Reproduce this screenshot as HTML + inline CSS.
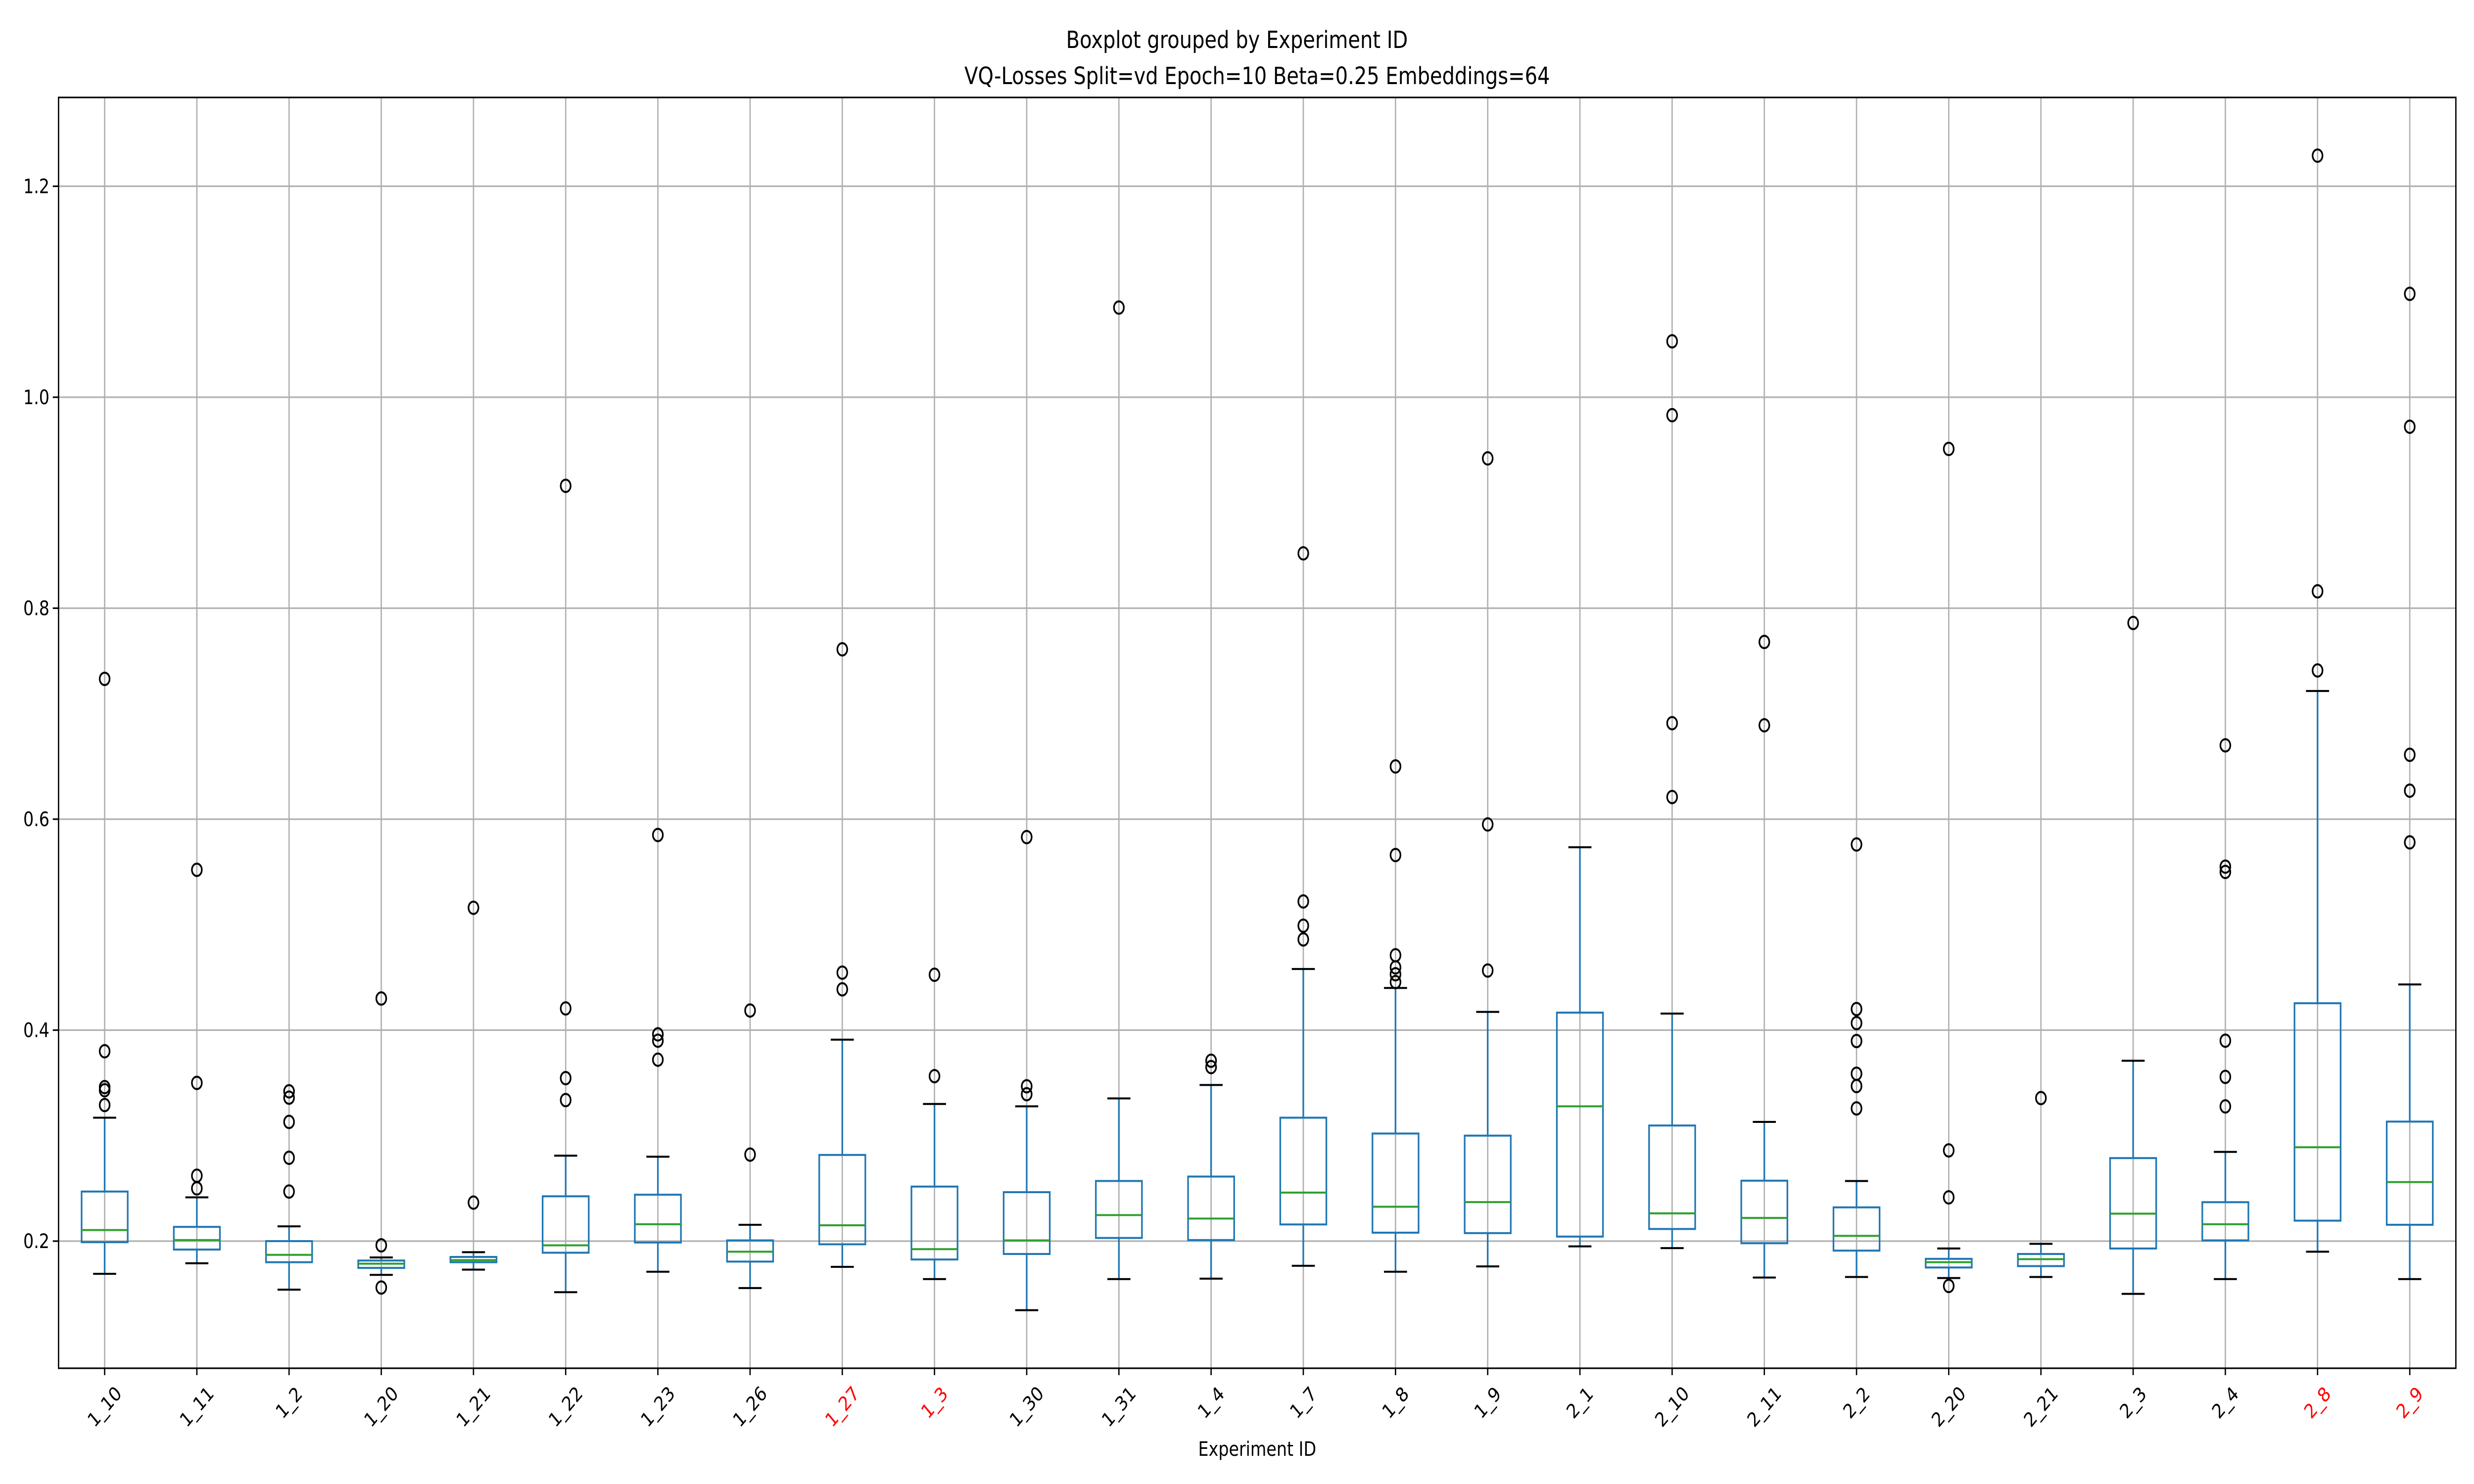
<!DOCTYPE html>
<html><head><meta charset="utf-8"><style>
html,body{margin:0;padding:0;background:#fff;overflow:hidden;width:100%;height:100%;}
svg{display:block;width:100vw;height:100vh;font-family:"DejaVu Sans","Liberation Sans",sans-serif;}
</style></head>
<body>
<svg id="chart" viewBox="0 0 6000 3000" preserveAspectRatio="none" xmlns="http://www.w3.org/2000/svg">
<rect x="0" y="0" width="6000" height="3000" fill="#fff"/>
<text x="3000" y="97" font-size="48" text-anchor="middle">Boxplot grouped by Experiment ID</text>
<text x="3049" y="170" font-size="48" text-anchor="middle">VQ-Losses Split=vd Epoch=10 Beta=0.25 Embeddings=64</text>
<g id="grid"></g>
<g id="boxes"></g>
<g id="axes"></g>
<text x="3049" y="2943" font-size="40" text-anchor="middle">Experiment ID</text>
</svg>
<script>
const categories = ["1_10","1_11","1_2","1_20","1_21","1_22","1_23","1_26","1_27","1_3","1_30","1_31","1_4","1_7","1_8","1_9","2_1","2_10","2_11","2_2","2_20","2_21","2_3","2_4","2_8","2_9"];
const redLabels = ["1_27","1_3","2_8","2_9"];
const q1 = [0.199,0.192,0.180,0.1746,0.180,0.189,0.1987,0.1806,0.197,0.1826,0.1878,0.203,0.201,0.2158,0.208,0.2076,0.2043,0.2115,0.198,0.191,0.175,0.1763,0.193,0.2007,0.2194,0.2155];
const medians = [0.2105,0.201,0.187,0.1786,0.182,0.196,0.216,0.190,0.215,0.1924,0.2007,0.2247,0.2214,0.246,0.2326,0.237,0.3278,0.2263,0.222,0.205,0.180,0.1829,0.226,0.216,0.289,0.256];
const q3 = [0.247,0.2135,0.200,0.1816,0.185,0.2425,0.244,0.2007,0.2817,0.2517,0.2464,0.257,0.2612,0.317,0.302,0.300,0.4166,0.3096,0.2573,0.232,0.1832,0.1878,0.2787,0.2369,0.4255,0.3133];
const whiskerLow = [0.169,0.179,0.154,0.168,0.173,0.1516,0.171,0.1555,0.1756,0.164,0.1345,0.164,0.1644,0.1766,0.171,0.176,0.195,0.1934,0.1655,0.166,0.165,0.166,0.150,0.164,0.190,0.164];
const whiskerHigh = [0.317,0.2415,0.214,0.1845,0.1895,0.281,0.280,0.2155,0.391,0.330,0.3278,0.3353,0.348,0.458,0.440,0.4173,0.5734,0.4157,0.313,0.257,0.193,0.1974,0.371,0.2846,0.7215,0.4433];
const outliers = [
 [0.733,0.380,0.346,0.343,0.329],
 [0.552,0.350,0.262,0.250],
 [0.342,0.336,0.313,0.279,0.247],
 [0.196,0.430,0.156],
 [0.2365,0.516],
 [0.916,0.4206,0.3545,0.3337],
 [0.585,0.396,0.390,0.372],
 [0.282,0.4186],
 [0.761,0.4545,0.4387],
 [0.4525,0.3564],
 [0.3468,0.3393,0.583],
 [1.085],
 [0.371,0.365],
 [0.852,0.522,0.499,0.486],
 [0.650,0.566,0.471,0.4595,0.453,0.4456],
 [0.942,0.595,0.4565],
 [],
 [1.053,0.983,0.691,0.621],
 [0.768,0.689],
 [0.576,0.420,0.4067,0.3897,0.3587,0.347,0.3258],
 [0.951,0.286,0.2415,0.1575],
 [0.3356],
 [0.786],
 [0.670,0.555,0.550,0.390,0.3557,0.3277],
 [1.229,0.816,0.741],
 [1.098,0.972,0.661,0.627,0.578]
];
const yTicks = [0.2,0.4,0.6,0.8,1.0,1.2];
const yTickLabels = ["0.2","0.4","0.6","0.8","1.0","1.2"];

const NS = "http://www.w3.org/2000/svg";
const L = 142, R = 5956, T = 197, B = 2766;
const step = (R - L) / categories.length;
function xPos(i){ return L + step * (i + 0.5); }
function yPos(v){ return 2509 - (v - 0.2) * 2132.5; }
function mk(tag, attrs, parent){
  const e = document.createElementNS(NS, tag);
  for (const k in attrs) e.setAttribute(k, attrs[k]);
  parent.appendChild(e);
  return e;
}
const grid = document.getElementById('grid');
const boxes = document.getElementById('boxes');
const axes = document.getElementById('axes');

yTicks.forEach((v, j) => {
  const y = yPos(v);
  const g = mk('line', {x1:L, x2:R, y1:y, y2:y, stroke:'#b0b0b0', 'stroke-width':3.2}, grid);
  
  
  const t = mk('line', {x1:L-14, x2:L, y1:y, y2:y, stroke:'#000', 'stroke-width':3.2}, axes);
  
  
  const lb = mk('text', {x:L-22, y:y+14, 'font-size':40, 'text-anchor':'end'}, axes);
  lb.textContent = yTickLabels[j];
  
  
});
categories.forEach((c, i) => {
  const x = xPos(i);
  const g = mk('line', {x1:x, x2:x, y1:T, y2:B, stroke:'#b0b0b0', 'stroke-width':3.2}, grid);
  
  
});

const bw = step * 0.5, cw = step * 0.25;
categories.forEach((c, i) => {
  const x = xPos(i);
  const grp = mk('g', {}, boxes);
  
  
  const w1 = mk('line', {x1:x, x2:x, y1:yPos(q1[i]), y2:yPos(whiskerLow[i]), stroke:'#1f77b4', 'stroke-width':4}, grp);
  
  
  const w2 = mk('line', {x1:x, x2:x, y1:yPos(q3[i]), y2:yPos(whiskerHigh[i]), stroke:'#1f77b4', 'stroke-width':4}, grp);
  
  
  const c1 = mk('line', {x1:x-cw/2, x2:x+cw/2, y1:yPos(whiskerLow[i]), y2:yPos(whiskerLow[i]), stroke:'#000', 'stroke-width':4}, grp);
  
  
  const c2 = mk('line', {x1:x-cw/2, x2:x+cw/2, y1:yPos(whiskerHigh[i]), y2:yPos(whiskerHigh[i]), stroke:'#000', 'stroke-width':4}, grp);
  
  
  const yt = yPos(q3[i]), yb = yPos(q1[i]);
  const bx = mk('rect', {x:x-bw/2, y:yt, width:bw, height:Math.max(yb-yt,1), fill:'none', stroke:'#1f77b4', 'stroke-width':4}, grp);
  
  
  const md = mk('line', {x1:x-bw/2, x2:x+bw/2, y1:yPos(medians[i]), y2:yPos(medians[i]), stroke:'#2ca02c', 'stroke-width':4}, grp);
  
  
  outliers[i].forEach(v => {
    const o = mk('ellipse', {cx:x, cy:yPos(v), rx:12, ry:12.5, fill:'none', stroke:'#000', 'stroke-width':4}, grp);
    
    
  });
  const t = mk('line', {x1:x, x2:x, y1:B, y2:B+14, stroke:'#000', 'stroke-width':3.2}, axes);
  
  
  const lb = mk('text', {x:x, y:0, 'font-size':40, 'text-anchor':'middle', 'dominant-baseline':'central', fill: redLabels.includes(c) ? '#ff0000' : '#000'}, axes);
  lb.textContent = c;
  
  
  const w = c.length * 23;
  const cy = 2797 + (w + 40) * 0.3536;
  lb.setAttribute('y', cy);
  lb.setAttribute('transform', 'rotate(-45 ' + x + ' ' + cy + ')');
});
const frame = mk('rect', {x:L, y:T, width:R-L, height:B-T, fill:'none', stroke:'#000', 'stroke-width':3.2}, axes);


</script>
</body></html>
